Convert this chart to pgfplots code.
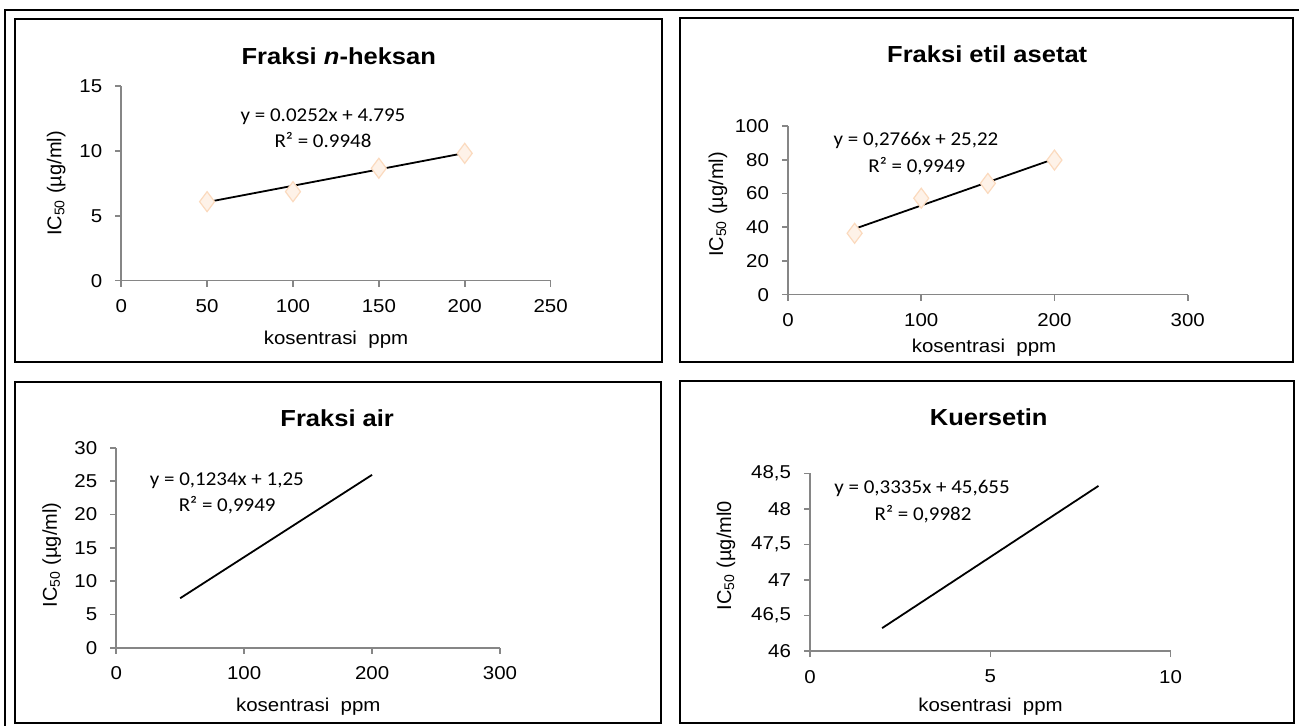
\documentclass[border=0pt]{standalone}
\usepackage{pgfplots}
\pgfplotsset{compat=1.18}
\usepackage{fontspec}
\setmainfont{Liberation Sans}[FakeStretch=1.1]
\newfontfamily\plainarial{Liberation Sans}
\newfontfamily\calib{Carlito}[FakeStretch=1.07]
\definecolor{axgray}{RGB}{134,134,134}
\definecolor{mkfill}{RGB}{254,242,232}
\definecolor{mkdraw}{RGB}{251,218,190}
\newcommand\ticksize{\fontsize{9.3}{11}\selectfont}
\newcommand\titlefont{\fontsize{11.6}{14}\selectfont\bfseries}
\newcommand\eqfont{\calib\fontsize{9.8}{12}\selectfont}
\newcommand\xlabfont{\fontsize{9.3}{11}\selectfont}
\newcommand\ylabfont{\plainarial\fontsize{10}{12}\selectfont}
\pgfplotsset{panel/.style={
  scale only axis, anchor=south west, clip=false,
  axis x line*=bottom, axis y line*=left,
  axis line style={draw=axgray, line width=0.8pt},
  tick style={draw=axgray, line width=0.8pt},
  major tick length=3pt, tick align=outside,
  tick label style={font=\ticksize, text=black},
  /pgf/number format/assume math mode=true,
  scaled ticks=false,
  xticklabel style={yshift=-3pt},
  yticklabel style={xshift=-3pt},
}}
\begin{document}
\begin{tikzpicture}
\useasboundingbox (0pt,0pt) rectangle (649.5pt,-363pt);
% outer frame
\draw[line width=1pt] (2.5pt,-370pt) -- (2.5pt,-5pt) -- (655pt,-5pt);
% panel frames
\draw[line width=1pt] (7.5pt,-9.5pt) rectangle (331pt,-181pt);
\draw[line width=1pt] (340pt,-9pt) rectangle (646.5pt,-181pt);
\draw[line width=1pt] (7.5pt,-191pt) rectangle (330.5pt,-361.5pt);
\draw[line width=1pt] (340pt,-190.5pt) rectangle (647pt,-361.5pt);

% Panel 1
\begin{axis}[panel, at={(60.6pt,-140.35pt)}, width=214.7pt, height=97.35pt,
  xmin=0, xmax=250, ymin=0, ymax=15,
  xtick={0,50,100,150,200,250}, ytick={0,5,10,15}]
\addplot[only marks, mark=diamond*, mark size=5pt, mark options={fill=mkfill, draw=mkdraw, line width=0.6pt}]
  coordinates {(50,6.09) (100,6.86) (150,8.66) (200,9.81)};
\addplot[black, line width=0.9pt, no marks] coordinates {(50,6.055) (200,9.835)};
\end{axis}

% Panel 2
\begin{axis}[panel, at={(394pt,-147.35pt)}, width=199.85pt, height=84.35pt,
  xmin=0, xmax=300, ymin=0, ymax=100,
  xtick={0,100,200,300}, ytick={0,20,40,60,80,100}]
\addplot[only marks, mark=diamond*, mark size=5pt, mark options={fill=mkfill, draw=mkdraw, line width=0.6pt}]
  coordinates {(50,36.4) (100,57.2) (150,66) (200,79.8)};
\addplot[black, line width=0.9pt, no marks] coordinates {(50,39.05) (200,80.54)};
\end{axis}

% Panel 3
\begin{axis}[panel, at={(58.1pt,-323.85pt)}, width=191.9pt, height=100pt,
  xmin=0, xmax=300, ymin=0, ymax=30,
  xtick={0,100,200,300}, ytick={0,5,10,15,20,25,30}]
\addplot[black, line width=0.9pt, no marks] coordinates {(50,7.42) (200,25.93)};
\end{axis}

% Panel 4
\begin{axis}[panel, at={(405pt,-325.5pt)}, width=180.3pt, height=88.85pt,
  xmin=0, xmax=10, ymin=46, ymax=48.5,
  xtick={0,5,10}, ytick={46,46.5,47,47.5,48,48.5},
  yticklabels={46,{46,5},47,{47,5},48,{48,5}}]
\addplot[black, line width=0.9pt, no marks] coordinates {(2,46.322) (8,48.323)};
\end{axis}

% titles
\node[anchor=base, font=\titlefont] at (169.4pt,-32.5pt) {Fraksi \textit{n}-heksan};
\node[anchor=base, font=\titlefont] at (493.6pt,-31.5pt) {Fraksi etil asetat};
\node[anchor=base, font=\titlefont] at (168.6pt,-213.35pt) {Fraksi air};
\node[anchor=base, font=\titlefont] at (494.35pt,-212.5pt) {Kuersetin};

% equations
\node[anchor=base, font=\eqfont] at (161.5pt,-60.7pt) {y = 0.0252x + 4.795};
\node[anchor=base, font=\eqfont] at (161.5pt,-73.85pt) {R² = 0.9948};
\node[anchor=base, font=\eqfont] at (458pt,-72.85pt) {y = 0,2766x + 25,22};
\node[anchor=base, font=\eqfont] at (458.4pt,-86.35pt) {R² = 0,9949};
\node[anchor=base, font=\eqfont] at (113.4pt,-242.85pt) {y = 0,1234x + 1,25};
\node[anchor=base, font=\eqfont] at (113.6pt,-255.85pt) {R² = 0,9949};
\node[anchor=base, font=\eqfont] at (461pt,-246.65pt) {y = 0,3335x + 45,655};
\node[anchor=base, font=\eqfont] at (461.5pt,-260pt) {R² = 0,9982};

% x labels
\node[anchor=base, font=\xlabfont] at (168pt,-172.3pt) {kosentrasi\ \ ppm};
\node[anchor=base, font=\xlabfont] at (492pt,-176.35pt) {kosentrasi\ \ ppm};
\node[anchor=base, font=\xlabfont] at (154.15pt,-355.5pt) {kosentrasi\ \ ppm};
\node[anchor=base, font=\xlabfont] at (495.25pt,-355.5pt) {kosentrasi\ \ ppm};

% y labels
\node[rotate=90, font=\ylabfont] at (28.1pt,-91.75pt) {IC\textsubscript{50} (µg/ml)};
\node[rotate=90, font=\ylabfont] at (359pt,-102.25pt) {IC\textsubscript{50} (µg/ml)};
\node[rotate=90, font=\ylabfont] at (25.8pt,-277.5pt) {IC\textsubscript{50} (µg/ml)};
\node[rotate=90, font=\ylabfont] at (363pt,-277.9pt) {IC\textsubscript{50} (µg/ml0};
\end{tikzpicture}
\end{document}
